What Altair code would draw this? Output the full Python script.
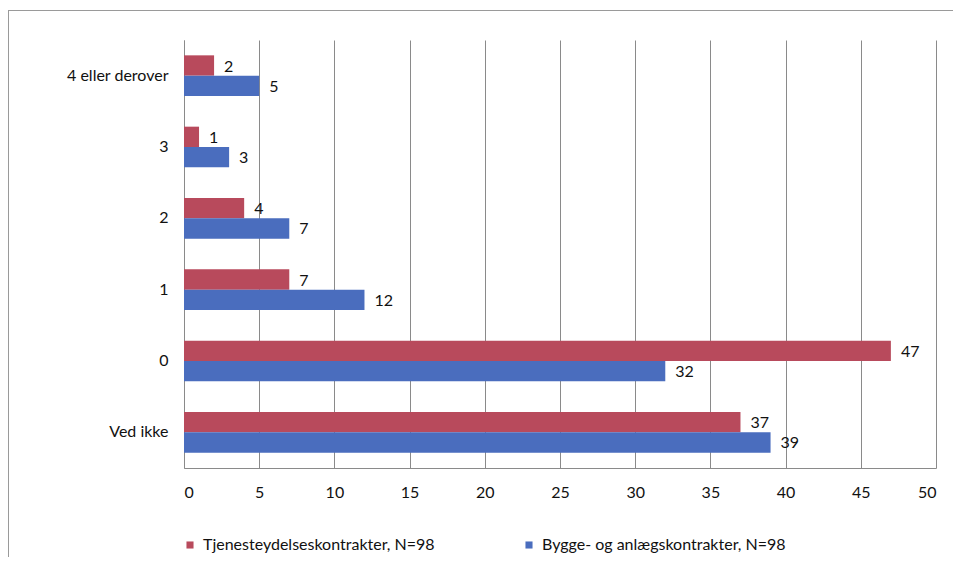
import altair as alt
import pandas as pd

categories = ["4 eller derover", "3", "2", "1", "0", "Ved ikke"]
series = ["Tjenesteydelseskontrakter, N=98", "Bygge- og anlægskontrakter, N=98"]
tjenesteydelse = [2, 1, 4, 7, 47, 37]
bygge = [5, 3, 7, 12, 32, 39]
x_ticks = list(range(0, 51, 5))
colors = ["#B84A5C", "#4A6DBE"]

rows = []
for c, a, b in zip(categories, tjenesteydelse, bygge):
    rows.append({"kategori": c, "serie": series[0], "antal": a})
    rows.append({"kategori": c, "serie": series[1], "antal": b})
df = pd.DataFrame(rows)

FONT = "Lato"
GRID = "#8a8a8a"
FS = 16

y = alt.Y(
    "kategori:N", sort=categories, title=None,
    scale=alt.Scale(paddingInner=0.43, paddingOuter=0.215),
    axis=alt.Axis(labelFont=FONT, labelFontSize=FS, labelColor="#111",
                  labelPadding=16, ticks=False, domainColor=GRID, grid=False),
)
x = alt.X(
    "antal:Q", title=None, scale=alt.Scale(domain=[0, 50], nice=False),
    axis=alt.Axis(values=x_ticks, grid=True, gridColor=GRID, ticks=False,
                  domainColor=GRID, labelFont=FONT, labelFontSize=FS,
                  labelPadding=16, labelColor="#111"),
)
yoff = alt.YOffset("serie:N", sort=series)
color = alt.Color(
    "serie:N", sort=series,
    scale=alt.Scale(domain=series, range=colors),
    legend=alt.Legend(title=None, orient="none", legendX=-2, legendY=497,
                      direction="horizontal", symbolType="square",
                      symbolSize=50, symbolStrokeWidth=0, labelLimit=0,
                      labelFont=FONT, labelFontSize=FS, labelColor="#111",
                      columnPadding=86, padding=0, labelOffset=5),
)

bars = alt.Chart(df).mark_bar().encode(x=x, y=y, yOffset=yoff, color=color)
labels = alt.Chart(df).mark_text(
    align="left", baseline="middle", dx=10, dy=1, font=FONT, fontSize=FS,
    color="#111",
).encode(x="antal:Q", y=alt.Y("kategori:N", sort=categories), yOffset=yoff,
         text="antal:Q")

frame_df = pd.DataFrame({"k": [0]})
top_line = alt.Chart(frame_df).mark_rule(color="#9a9a9a", strokeWidth=1).encode(
    x=alt.value(-176), x2=alt.value(769), y=alt.value(-29.5))
left_line = alt.Chart(frame_df).mark_rule(color="#9a9a9a", strokeWidth=1).encode(
    x=alt.value(-175.5), y=alt.value(-30), y2=alt.value(517))

chart = alt.layer(bars, labels, top_line, left_line).properties(
    width=752, height=428,
    autosize=alt.AutoSizeParams(type="none"),
    padding={"left": 176, "top": 32, "right": 17, "bottom": 89},
    background="white",
).configure_view(stroke=None)

chart.save("out.html", embed_options={"renderer": "svg", "actions": False})
